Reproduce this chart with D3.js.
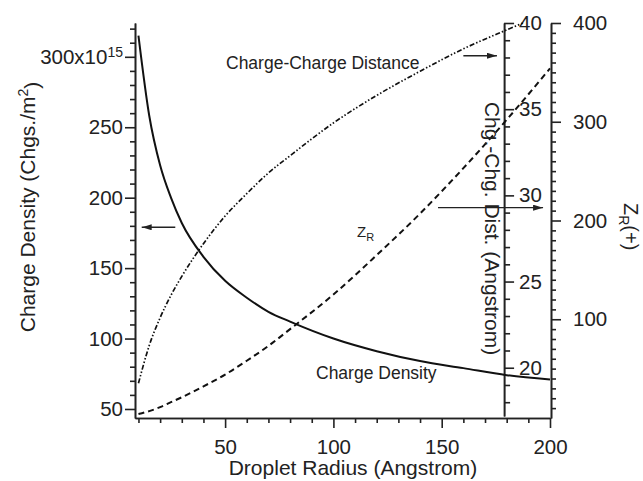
<!DOCTYPE html>
<html><head><meta charset="utf-8">
<script src="https://cdn.jsdelivr.net/npm/d3@7/dist/d3.min.js"></script>
<style>
html,body{margin:0;padding:0;background:#fff;}
svg{display:block;font-family:"Liberation Sans",Arial,sans-serif;}
.axis path,.axis line{stroke:#222;stroke-width:1.6px;}
.axis text{fill:#222;font-size:20.5px;font-family:"Liberation Sans",Arial,sans-serif;}
</style></head>
<body>
<script>
// ---- data ----
const radius = [10,15,20,25,30,40,50,60,70,80,100,120,140,160,180,200];
const chargeDensity = [315,258,223,200,182,158,141,129,119,112,100,91,84,79,74,71]; // x10^15 Chgs./m^2
const zR = [4,7,11,16,21,32,44,58,73,90,125,165,207,253,302,354];
const distRadius = [10,15,20,25,30,40,50,60,70,80,100,120,140,160,180,187.5];
const chgDist = [19.1,21.3,22.9,24.2,25.3,27.2,28.8,30.1,31.3,32.3,34.2,35.8,37.2,38.5,39.6,40];

const xTicks = [50,100,150,200];
const leftTicks = [50,100,150,200,250,300];
const distTicks = [20,25,30,35,40];
const zTicks = [100,200,300,400];

const W = 643, H = 481;
const svg = d3.select("body").append("svg").attr("width",W).attr("height",H);
svg.append("rect").attr("width",W).attr("height",H).attr("fill","#fff");

const x = d3.scaleLinear().domain([8.4,200]).range([135,550]);
const yL = d3.scaleLinear().domain([43.6,324]).range([418,23]);
const yD = d3.scaleLinear().domain([17.2,40]).range([416,23]);
const yZ = d3.scaleLinear().domain([0,400]).range([418,23]);
const innerX = x(178.8);

const range = (a,b,s)=>d3.range(a,b+1e-9,s);

// bottom axis
svg.append("g").attr("class","axis").attr("transform","translate(0,418)")
  .call(d3.axisBottom(x).tickValues(range(10,190,10).filter(v=>v%50)).tickSize(5).tickSizeOuter(0).tickFormat(""));
svg.append("g").attr("class","axis").attr("transform","translate(0,418)")
  .call(d3.axisBottom(x).tickValues(xTicks).tickSize(10).tickPadding(11).tickSizeOuter(0).tickFormat(d3.format("d")));

// left axis
svg.append("g").attr("class","axis").attr("transform","translate(135,0)")
  .call(d3.axisLeft(yL).tickValues(range(60,320,10).filter(v=>v%50)).tickSize(5).tickSizeOuter(0).tickFormat(""));
const gL = svg.append("g").attr("class","axis").attr("transform","translate(135,0)")
  .call(d3.axisLeft(yL).tickValues(leftTicks).tickSize(10).tickPadding(2).tickSizeOuter(0).tickFormat(d3.format("d")));
gL.selectAll(".tick text").filter(d=>d===300).each(function(){
  const t = d3.select(this); t.text(null);
  t.append("tspan").text("300x10");
  t.append("tspan").attr("dy","-0.5em").attr("font-size","14px").text("15");
});

// inner right axis (Chg-Chg Dist)
svg.append("g").attr("class","axis").attr("transform",`translate(${innerX},0)`)
  .call(d3.axisRight(yD).tickValues(range(18,39,1).filter(v=>v%5)).tickSize(6).tickSizeOuter(0).tickFormat(""));
svg.append("g").attr("class","axis").attr("transform",`translate(${innerX},0)`)
  .call(d3.axisRight(yD).tickValues(distTicks).tickSize(10).tickPadding(5).tickSizeOuter(0).tickFormat(d3.format("d")));

// outer right axis (Z_R)
svg.append("g").attr("class","axis").attr("transform",`translate(${x(200)+1},0)`)
  .call(d3.axisRight(yZ).tickValues(range(10,390,10).filter(v=>v%100)).tickSize(5).tickSizeOuter(0).tickFormat(""));
svg.append("g").attr("class","axis").attr("transform",`translate(${x(200)+1},0)`)
  .call(d3.axisRight(yZ).tickValues(zTicks).tickSize(10).tickPadding(12).tickSizeOuter(0).tickFormat(d3.format("d")));

// curves
const line = (ys,yScale,xs)=>d3.line().curve(d3.curveMonotoneX)
  .x((d,i)=>x(xs[i])).y(d=>yScale(d))(ys);
svg.append("path").attr("d",line(chargeDensity,yL,radius))
  .attr("fill","none").attr("stroke","#111").attr("stroke-width",2);
svg.append("path").attr("d",line(zR,yZ,radius))
  .attr("fill","none").attr("stroke","#111").attr("stroke-width",2).attr("stroke-dasharray","6,4");
svg.append("path").attr("d",line(chgDist,yD,distRadius))
  .attr("fill","none").attr("stroke","#111").attr("stroke-width",1.7).attr("stroke-dasharray","5,2,1.5,2,1.5,2");

// arrows
const defs = svg.append("defs");
defs.append("marker").attr("id","ah").attr("viewBox","0 0 10 6").attr("refX",10).attr("refY",3)
  .attr("markerWidth",10).attr("markerHeight",6).attr("markerUnits","userSpaceOnUse").attr("orient","auto")
  .append("path").attr("d","M0,0 L10,3 L0,6 Z").attr("fill","#222");
function arrow(x1,x2,yy){
  svg.append("line").attr("x1",x1).attr("x2",x2).attr("y1",yy).attr("y2",yy)
    .attr("stroke","#222").attr("stroke-width",1.3).attr("marker-end","url(#ah)");
}
arrow(x(27),x(11.5),yL(179));
arrow(x(160),x(175.5),yD(38.1));
arrow(x(148.3),x(196.8),yZ(213));

// annotations
const txt = (t,xx,yy,fs)=>svg.append("text").attr("x",xx).attr("y",yy).attr("font-size",fs).attr("fill","#222").text(t);
txt("Charge-Charge Distance",226,69,"17.5px");
txt("Charge Density",316,379,"17.5px");
const zl = svg.append("text").attr("x",357).attr("y",237).attr("font-size","15px").attr("fill","#222");
zl.append("tspan").text("Z");
zl.append("tspan").attr("dy","4").attr("font-size","11px").text("R");

// axis titles
svg.append("text").attr("x",353).attr("y",475).attr("text-anchor","middle").attr("font-size","21px").attr("fill","#222")
  .text("Droplet Radius (Angstrom)");
const lt = svg.append("text").attr("transform","translate(35,207) rotate(-90)").attr("text-anchor","middle")
  .attr("font-size","21px").attr("fill","#222");
lt.append("tspan").text("Charge Density (Chgs./m");
lt.append("tspan").attr("dy","-0.5em").attr("font-size","14px").text("2");
lt.append("tspan").attr("dy","0.5em").text(")");
svg.append("text").attr("transform","translate(485,228.5) rotate(90)").attr("text-anchor","middle")
  .attr("font-size","21px").attr("fill","#222").text("Chg.-Chg. Dist. (Angstrom)");
const zt = svg.append("text").attr("transform","translate(624,203) rotate(90)").attr("text-anchor","start")
  .attr("font-size","20px").attr("fill","#222");
zt.append("tspan").text("Z");
zt.append("tspan").attr("dy","5").attr("font-size","14px").text("R");
zt.append("tspan").attr("dy","-5").text("(+)");
</script>
</body></html>
